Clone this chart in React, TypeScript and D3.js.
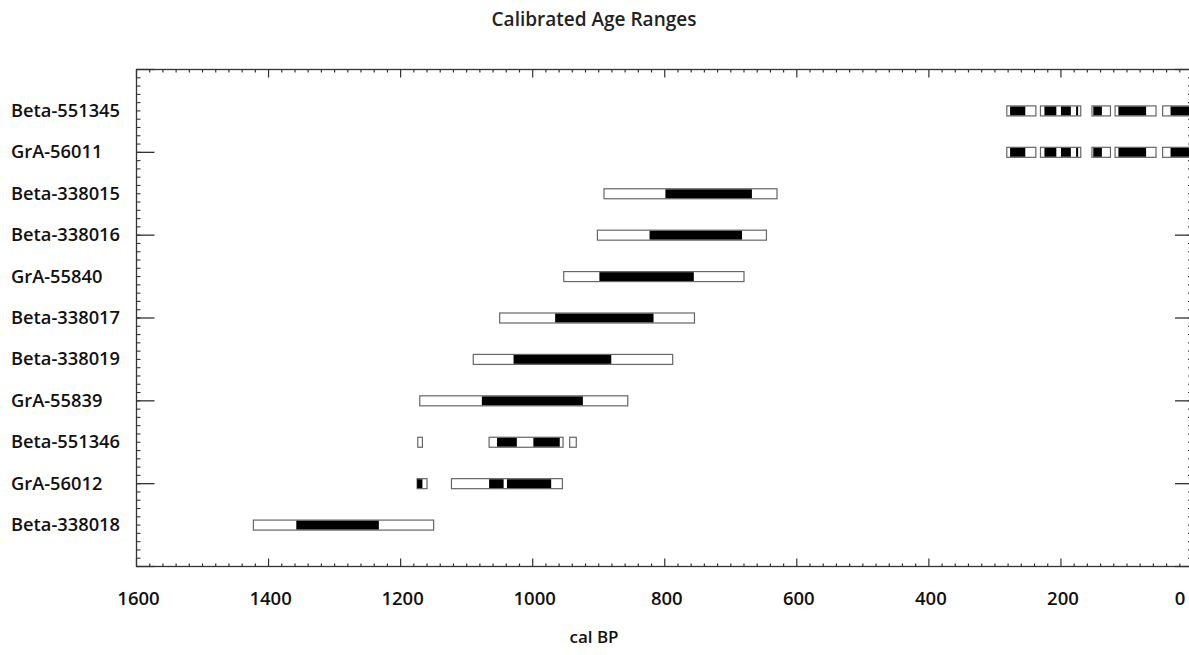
import React from "react";
import * as d3 from "d3";

const sampleNames = [
  "Beta-551345",
  "GrA-56011",
  "Beta-338015",
  "Beta-338016",
  "GrA-55840",
  "Beta-338017",
  "Beta-338019",
  "GrA-55839",
  "Beta-551346",
  "GrA-56012",
  "Beta-338018",
];

// 95.4% ranges (white boxes), cal BP [older, younger]
const outerRanges: [number, number][][] = [
  [[282, 238], [231, 170], [153, 125], [118, 56], [46, 0]],
  [[282, 238], [231, 170], [153, 125], [118, 56], [46, 0]],
  [[892, 630]],
  [[902, 646]],
  [[953, 680]],
  [[1050, 755]],
  [[1090, 788]],
  [[1171, 856]],
  [[1174, 1167], [1066, 954], [944, 934]],
  [[1175, 1160], [1123, 955]],
  [[1423, 1150]],
];

// 68.2% ranges (black boxes)
const innerRanges: [number, number][][] = [
  [[277, 254], [225, 207], [200, 185], [177, 174], [151, 138], [113, 71], [34, 0]],
  [[277, 254], [225, 207], [200, 185], [177, 174], [151, 138], [113, 71], [34, 0]],
  [[799, 668]],
  [[823, 683]],
  [[899, 756]],
  [[966, 817]],
  [[1029, 881]],
  [[1077, 924]],
  [[1054, 1024], [999, 959]],
  [[1175, 1167], [1066, 1044], [1039, 972]],
  [[1358, 1233]],
];

const xTicks = [1600, 1400, 1200, 1000, 800, 600, 400, 200, 0];

const W = 1189;
const H = 655;
const FONT = "'Open Sans', 'Noto Sans', sans-serif";

export default function App() {
  const left = 136.5;
  const right = 1193;
  const top = 69.5;
  const bottom = 566.5;
  const x = d3.scaleLinear().domain([1600, 0]).range([left, right]);
  const y = d3.scaleLinear().domain([0, sampleNames.length + 1]).range([top, bottom]);
  const barH = 10;
  const stroke = "#666";

  const minorX = d3.range(1600, -1, -20);
  const minorY = d3.range(0, sampleNames.length + 1 + 0.001, 0.2);
  const majorY = d3.range(0, sampleNames.length + 2, 2);

  return (
    <svg width={W} height={H} style={{ display: "block", position: "absolute", left: 0, top: 0 }}>
      <rect width={W} height={H} fill="#fff" />
      <text x={594} y={26} textAnchor="middle" fontFamily={FONT} fontWeight={600} fontSize={19} fill="#222">
        Calibrated Age Ranges
      </text>

      {/* frame */}
      <rect x={left} y={top} width={right - left} height={bottom - top} fill="none" stroke="#333" strokeWidth={1.3} />

      {/* x ticks */}
      {minorX.map((v) => {
        const major = v % 200 === 0;
        const len = major ? 8 : 3;
        return (
          <g key={"xt" + v} stroke="#333" strokeWidth={1.2}>
            <line x1={x(v)} x2={x(v)} y1={bottom} y2={bottom - len} />
            <line x1={x(v)} x2={x(v)} y1={top} y2={top + len} />
          </g>
        );
      })}
      {/* y ticks */}
      {minorY.map((v, i) => (
        <g key={"ym" + i} stroke="#333" strokeWidth={1.1}>
          <line x1={left} x2={left + 4} y1={y(v)} y2={y(v)} />
          <line x1={right} x2={right - 5} y1={y(v)} y2={y(v)} />
        </g>
      ))}
      {majorY.map((v) => (
        <g key={"yM" + v} stroke="#333" strokeWidth={1.3}>
          <line x1={left} x2={left + 18} y1={y(v)} y2={y(v)} />
          <line x1={right} x2={right - 18} y1={y(v)} y2={y(v)} />
        </g>
      ))}

      {/* x tick labels */}
      {xTicks.map((v) => (
        <text
          key={"xl" + v}
          x={Math.min(x(v) + 2, W - 9)}
          y={605}
          textAnchor="middle"
          fontFamily={FONT}
          fontWeight={600}
          fontSize={18.5}
          fill="#111"
        >
          {v}
        </text>
      ))}
      <text x={594} y={643} textAnchor="middle" fontFamily={FONT} fontWeight={600} fontSize={17} fill="#111">
        cal BP
      </text>

      {/* sample labels */}
      {sampleNames.map((n, i) => (
        <text
          key={"sl" + n}
          x={11}
          y={y(i + 1) + 6}
          fontFamily={FONT}
          fontWeight={600}
          fontSize={18.3}
          fill="#111"
        >
          {n}
        </text>
      ))}

      {/* bars */}
      {sampleNames.map((n, i) => {
        const cy = y(i + 1);
        return (
          <g key={"b" + n}>
            {outerRanges[i].map(([a, b], j) => (
              <rect
                key={"o" + j}
                x={x(a)}
                y={cy - barH / 2}
                width={x(b) - x(a)}
                height={barH}
                fill="#fff"
                stroke={stroke}
                strokeWidth={1.2}
              />
            ))}
            {innerRanges[i].map(([a, b], j) => (
              <rect
                key={"i" + j}
                x={x(a)}
                y={cy - barH / 2 + 0.6}
                width={x(b) - x(a)}
                height={barH - 1.2}
                fill="#000"
              />
            ))}
          </g>
        );
      })}
    </svg>
  );
}
